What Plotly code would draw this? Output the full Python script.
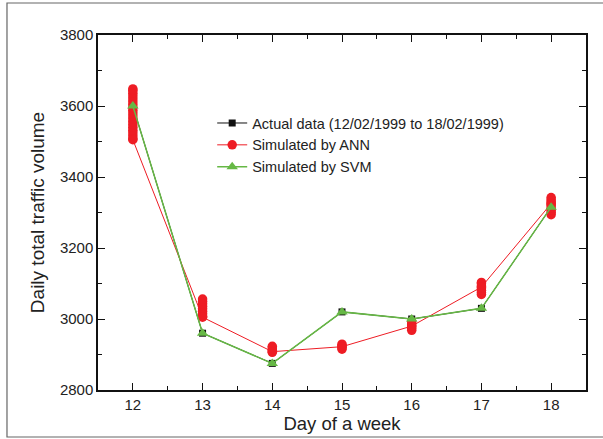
import plotly.graph_objects as go

days = [12, 13, 14, 15, 16, 17, 18]
actual = [3600, 2960, 2875, 3020, 3000, 3030, 3315]
svm = [3600, 2960, 2875, 3020, 3000, 3030, 3315]
ann_line = [3505, 3005, 2908, 2922, 2980, 3090, 3325]

# ANN simulated values from repeated runs (vertical dot streaks)
ann_runs = {
    12: [3508, 3516, 3524, 3532, 3540, 3548, 3556, 3564, 3572, 3580, 3588, 3596,
         3604, 3612, 3620, 3628, 3636, 3644, 3648],
    13: [3008, 3015, 3022, 3029, 3036, 3043, 3050, 3056],
    14: [2906, 2912, 2918, 2923],
    15: [2915, 2920, 2925, 2929],
    16: [2968, 2974, 2980, 2986, 2993],
    17: [3069, 3075, 3081, 3087, 3093, 3099, 3103],
    18: [3294, 3300, 3306, 3312, 3318, 3324, 3330, 3336, 3342],
}

run_x = [d for d in days for _ in ann_runs[d]]
run_y = [v for d in days for v in ann_runs[d]]

RED = "#ee1c24"
GREEN = "#66b845"
FONT = "Liberation Sans, Arial"

fig = go.Figure()
fig.add_trace(go.Scatter(x=days, y=actual, mode="lines+markers",
                         name="Actual data (12/02/1999 to 18/02/1999)",
                         line=dict(color="#111111", width=1),
                         marker=dict(symbol="square", size=7, color="#111111")))
fig.add_trace(go.Scatter(x=run_x, y=run_y, mode="markers", showlegend=False,
                         marker=dict(symbol="circle", size=9.5, color=RED)))
fig.add_trace(go.Scatter(x=days, y=ann_line, mode="lines+markers",
                         name="Simulated by ANN",
                         line=dict(color=RED, width=1),
                         marker=dict(symbol="circle", size=9.5, color=RED)))
fig.add_trace(go.Scatter(x=days, y=svm, mode="lines+markers",
                         name="Simulated by SVM",
                         line=dict(color=GREEN, width=1.5),
                         marker=dict(symbol="triangle-up", size=10, color=GREEN)))

axis_common = dict(showline=True, linecolor="#111111", linewidth=1.5, mirror="ticks",
                   ticks="inside", ticklen=7, tickwidth=1.2, tickcolor="#111111",
                   showgrid=False, zeroline=False, automargin=False,
                   tickfont=dict(family=FONT, size=15, color="#222222"))

fig.update_xaxes(range=[11.5, 18.5], tickvals=days, ticktext=[str(d) for d in days],
                 title=dict(text="Day of a week", standoff=2,
                            font=dict(family=FONT, size=18.5, color="#222222")),
                 minor=dict(ticks="inside", ticklen=4, tickwidth=1.2, tickcolor="#111111",
                            dtick=0.5, tick0=11.5),
                 **axis_common)
fig.update_yaxes(range=[2800, 3800], dtick=200, tick0=2800,
                 title=dict(text="Daily total traffic volume", standoff=10,
                            font=dict(family=FONT, size=19, color="#222222")),
                 minor=dict(ticks="inside", ticklen=4, tickwidth=1.2, tickcolor="#111111",
                            dtick=100),
                 **axis_common)

fig.add_shape(type="rect", xref="paper", yref="paper",
              x0=-0.1865, x1=1.2, y0=-0.1324, y1=1.0901,
              line=dict(color="#666666", width=1.2), fillcolor="rgba(0,0,0,0)", layer="below")

fig.update_layout(
    width=603, height=439,
    margin=dict(l=98, r=17, t=35, b=49, autoexpand=False),
    plot_bgcolor="white", paper_bgcolor="white",
    legend=dict(x=0.234, y=0.797, xanchor="left", yanchor="top",
                bgcolor="rgba(0,0,0,0)", tracegroupgap=0, itemwidth=30,
                font=dict(family=FONT, size=14.5, color="#222222")),
)

fig.write_html("out.html", config={"displayModeBar": False},
               post_script="document.body.style.margin='0';document.body.style.overflow='hidden';")
